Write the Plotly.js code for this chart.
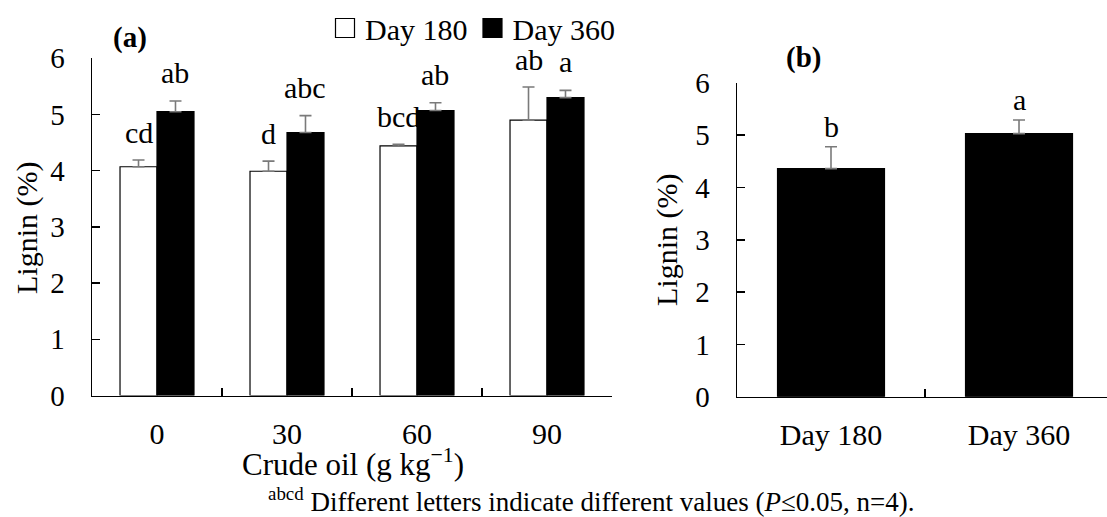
<!DOCTYPE html>
<html>
<head>
<meta charset="utf-8">
<script src="https://cdn.plot.ly/plotly-3.0.1.min.js"></script>
<style>html,body{margin:0;padding:0;background:#fff;}#chart{width:1107px;height:517px;}</style>
</head>
<body>
<div id="chart"></div>
<script>
// ---- data ----
const categories = ['0', '30', '60', '90'];
const day180 = [4.07, 3.99, 4.44, 4.90];
const day180Err = [0.12, 0.18, 0.03, 0.59];
const day360 = [5.05, 4.68, 5.07, 5.30];
const day360Err = [0.19, 0.30, 0.14, 0.13];
const letters180 = ['cd', 'd', 'bcd', 'ab'];
const letters360 = ['ab', 'abc', 'ab', 'a'];
const dayCategories = ['Day 180', 'Day 360'];
const dayMeans = [4.36, 5.03];
const dayErr = [0.42, 0.26];
const dayLetters = ['b', 'a'];
const yTicks = [0, 1, 2, 3, 4, 5, 6];

// ---- layout helpers ----
const W = 1107, H = 517;
const FONT = 'Liberation Serif';
const px = v => v / W;
const py = v => 1 - v / H;
const errStyle = {type: 'data', symmetric: false, color: '#7a7a7a', thickness: 1.6, width: 6};

const traces = [
  {type: 'bar', name: 'Day 180', x: categories, y: day180, xaxis: 'x', yaxis: 'y',
   marker: {color: '#ffffff', line: {color: '#000000', width: 1.2}},
   error_y: Object.assign({array: day180Err, arrayminus: day180.map(() => 0)}, errStyle)},
  {type: 'bar', name: 'Day 360', x: categories, y: day360, xaxis: 'x', yaxis: 'y',
   marker: {color: '#000000', line: {color: '#000000', width: 1.2}},
   error_y: Object.assign({array: day360Err, arrayminus: day360.map(() => 0)}, errStyle)},
  {type: 'bar', name: 'Days', x: dayCategories, y: dayMeans, xaxis: 'x2', yaxis: 'y2', showlegend: false,
   marker: {color: '#000000', line: {color: '#000000', width: 1.2}},
   error_y: Object.assign({array: dayErr, arrayminus: dayMeans.map(() => 0)}, errStyle)}
];

const BARGAP_A = 0.431;
const halfBar = (1 - BARGAP_A) / 4;
const annotations = [];
const letterFont = {family: FONT, size: 30, color: '#000'};
categories.forEach((c, i) => {
  annotations.push({xref: 'x', yref: 'y', x: i - halfBar, y: day180[i] + day180Err[i], text: letters180[i],
    showarrow: false, yanchor: 'bottom', xanchor: 'center', yshift: 9, font: letterFont});
  annotations.push({xref: 'x', yref: 'y', x: i + halfBar, y: day360[i] + day360Err[i], text: letters360[i],
    showarrow: false, yanchor: 'bottom', xanchor: 'center', yshift: 10, font: letterFont});
});
dayCategories.forEach((c, i) => {
  annotations.push({xref: 'x2', yref: 'y2', x: c, y: dayMeans[i] + dayErr[i], text: dayLetters[i],
    showarrow: false, yanchor: 'bottom', xanchor: 'center', yshift: 2, font: letterFont});
});
annotations.push(
  {xref: 'paper', yref: 'paper', x: px(130), y: py(38), text: '<b>(a)</b>', showarrow: false,
   xanchor: 'center', yanchor: 'middle', font: {family: FONT, size: 29, color: '#000'}},
  {xref: 'paper', yref: 'paper', x: px(803), y: py(57), text: '<b>(b)</b>', showarrow: false,
   xanchor: 'center', yanchor: 'middle', font: {family: FONT, size: 29, color: '#000'}},
  {xref: 'paper', yref: 'paper', x: px(27), y: py(228), text: 'Lignin (%)', textangle: -90, showarrow: false,
   xanchor: 'center', yanchor: 'middle', font: {family: FONT, size: 30, color: '#000'}},
  {xref: 'paper', yref: 'paper', x: px(667), y: py(240), text: 'Lignin (%)', textangle: -90, showarrow: false,
   xanchor: 'center', yanchor: 'middle', font: {family: FONT, size: 30, color: '#000'}},
  {xref: 'paper', yref: 'paper', x: px(353), y: py(462), text: 'Crude oil (g kg<sup>\u22121</sup>)', showarrow: false,
   xanchor: 'center', yanchor: 'middle', font: {family: FONT, size: 31, color: '#000'}},
  {xref: 'paper', yref: 'paper', x: px(266), y: py(500), text: '<sup>abcd</sup> Different letters indicate different values (<i>P</i>\u22640.05, n=4).', showarrow: false,
   xanchor: 'left', yanchor: 'middle', font: {family: FONT, size: 27, color: '#000'}}
);

const axisCommon = {showline: true, linecolor: '#000', linewidth: 1.5, showgrid: false, zeroline: false,
  ticks: 'inside', ticklen: 8, tickwidth: 1.5, tickcolor: '#000', fixedrange: true};

const layout = {
  width: W, height: H,
  margin: {l: 0, r: 0, t: 0, b: 0},
  paper_bgcolor: '#fff', plot_bgcolor: '#fff',
  font: {family: FONT, color: '#000'},
  barmode: 'group',
  bargap: BARGAP_A,
  showlegend: true,
  legend: {orientation: 'h', x: px(325), y: py(28), xanchor: 'left', yanchor: 'middle',
    font: {family: FONT, size: 30, color: '#000'}, bgcolor: 'rgba(0,0,0,0)', itemwidth: 30, traceorder: 'normal'},
  xaxis: Object.assign({}, axisCommon, {domain: [px(92), px(612)], type: 'category', tickson: 'boundaries',
    range: [-0.5, 3.5], tickfont: {family: FONT, size: 30}, ticklabelstandoff: 11, anchor: 'y'}),
  yaxis: Object.assign({}, axisCommon, {domain: [py(395.5), py(58.3)], range: [0, 6], tickvals: yTicks,
    tickfont: {family: FONT, size: 29}, ticklabelstandoff: 20, anchor: 'x'}),
  xaxis2: Object.assign({}, axisCommon, {domain: [px(737), 1], type: 'category', tickson: 'boundaries',
    range: [-0.5, 1.468], tickfont: {family: FONT, size: 30}, ticklabelstandoff: 11, anchor: 'y2'}),
  yaxis2: Object.assign({}, axisCommon, {domain: [py(396.7), py(82.9)], range: [0, 6], tickvals: yTicks,
    tickfont: {family: FONT, size: 29}, ticklabelstandoff: 20, anchor: 'x2'}),
  annotations: annotations
};

Plotly.newPlot('chart', traces, layout, {staticPlot: true, displayModeBar: false}).then(gd => {
  // enlarge the legend swatches to match the reference's square markers
  gd.querySelectorAll('.legend .legendpoints path').forEach(p => {
    p.setAttribute('d', 'M9.5,9.5H-9.5V-9.5H9.5Z');
  });
});
</script>
</body>
</html>
